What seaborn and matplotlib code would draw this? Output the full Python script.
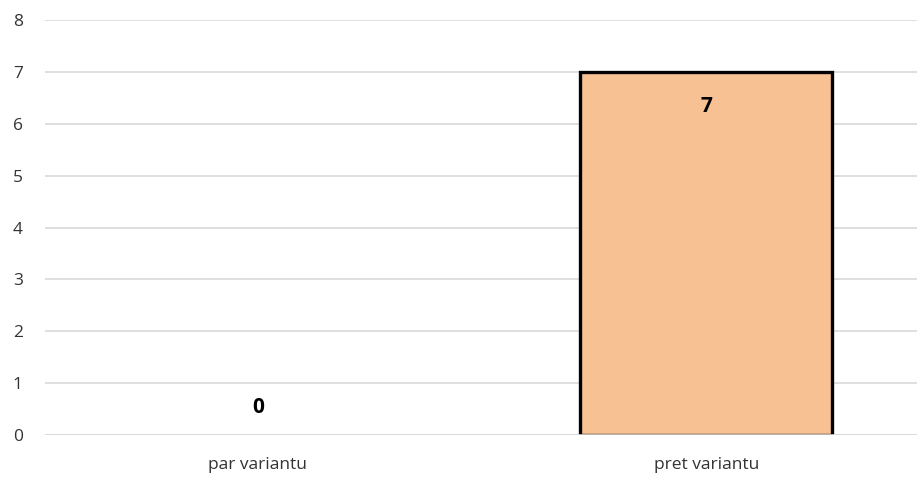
import matplotlib
matplotlib.use('Agg')
import matplotlib.pyplot as plt
import pandas as pd
import seaborn as sns

categories = ['par variantu', 'pret variantu']
values = [0, 7]
yticks = [0, 1, 2, 3, 4, 5, 6, 7, 8]

df = pd.DataFrame({'variants': categories, 'skaits': values})

sns.set_style('white')
plt.rcParams['font.family'] = ['Open Sans', 'DejaVu Sans']

fig = plt.figure(figsize=(9.17, 4.84), dpi=100)
ax = fig.add_axes([45 / 917, 49 / 484, 872 / 917, 415 / 484])

sns.barplot(data=df, x='variants', y='skaits', color='#F8C193', saturation=1,
            width=0.5625, linewidth=0, ax=ax, zorder=3)

for p, v in zip(ax.patches, values):
    if v > 0:
        p.set_edgecolor('black')
        p.set_linewidth(2.4)

for i, v in enumerate(values):
    off = -25 if v > 0 else 20
    ax.annotate(str(v), (i, v), xytext=(0, off), textcoords='offset points',
                ha='center', va='center', fontsize=15, fontweight='bold',
                color='black', zorder=5)

ax.set_ylim(0, 8)
ax.set_xlim(-0.475, 1.47)
ax.set_yticks(yticks)
ax.yaxis.grid(True, color='#d9d9d9', linewidth=1.2, zorder=0)
ax.set_axisbelow(True)
for s in ax.spines.values():
    s.set_visible(False)
ax.axhline(0, color='#d9d9d9', linewidth=1.2, zorder=4)
ax.set_xlabel('')
ax.set_ylabel('')
ax.tick_params(axis='both', length=0, labelsize=12.5, colors='#333333')
ax.tick_params(axis='y', pad=16)
ax.tick_params(axis='x', pad=16)

fig.savefig('out.png', dpi=100)
